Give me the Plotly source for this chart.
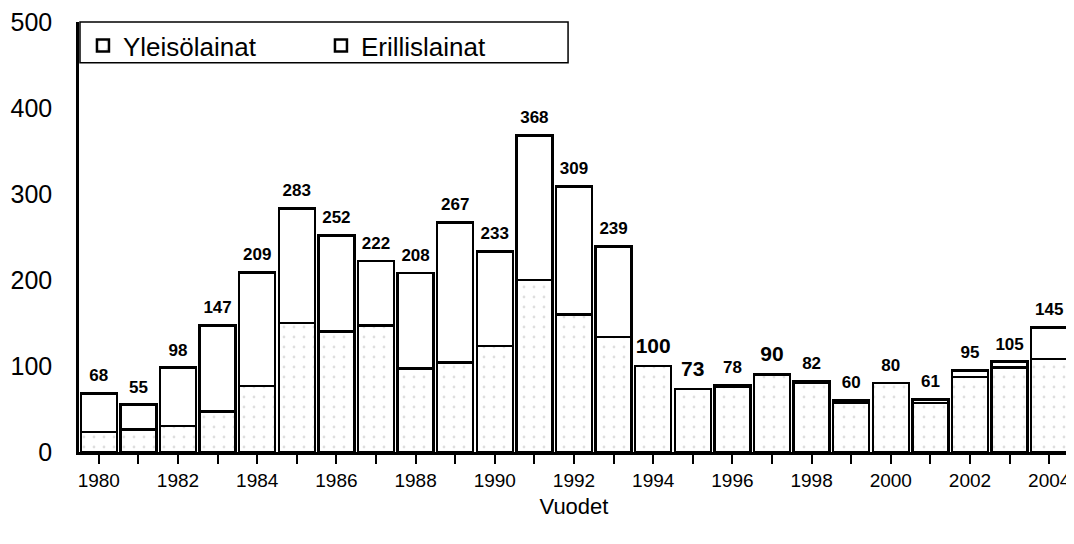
import plotly.graph_objects as go

years = list(range(1980, 2005))
totals = [68, 55, 98, 147, 209, 283, 252, 222, 208, 267, 233, 368, 309, 239,
          100, 73, 78, 90, 82, 60, 80, 61, 95, 105, 145]
yleiso = [23, 26, 30, 47, 77, 150, 140, 147, 97, 104, 123, 200, 160, 134,
          100, 73, 76, 90, 80, 57, 80, 57, 87, 98, 108]
erillis = [t - y for t, y in zip(totals, yleiso)]
label_sizes = [17] * 25
for i in (14, 15, 17):
    label_sizes[i] = 21

font_family = "Liberation Sans, Arial, sans-serif"

fig = go.Figure()
fig.add_trace(go.Bar(
    x=years, y=yleiso, name="Yleisölainat",
    marker=dict(color="white", line=dict(color="black", width=2.5),
                pattern=dict(shape=".", fgcolor="#bdbdbd", bgcolor="white",
                             size=10, solidity=0.06)),
))
fig.add_trace(go.Bar(
    x=years, y=erillis, name="Erillislainat",
    marker=dict(color="white", line=dict(color="black", width=2.5)),
))
fig.add_trace(go.Scatter(
    x=years, y=totals, mode="markers+text", text=[str(t) for t in totals],
    marker=dict(size=11, color="rgba(0,0,0,0)"),
    textposition="top center", showlegend=False, hoverinfo="skip",
    textfont=dict(family=font_family, size=label_sizes, color="black"),
    texttemplate="<b>%{text}</b>",
))

fig.update_layout(
    barmode="stack", bargap=0.09,
    width=1066, height=528,
    margin=dict(l=71, r=5, t=14, b=84),
    plot_bgcolor="white", paper_bgcolor="white",
    font=dict(family=font_family, color="black"),
    showlegend=True,
    legend=dict(orientation="h", x=0.004, y=1.0, xanchor="left", yanchor="top",
                borderwidth=0, bgcolor="rgba(0,0,0,0)",
                font=dict(size=26), itemwidth=30, traceorder="normal",
                entrywidth=193, entrywidthmode="pixels",
                tracegroupgap=0),
    xaxis=dict(range=[1979.5, 2004.5], tickmode="array", tickvals=years,
               ticktext=[str(y) if y % 2 == 0 else "" for y in years],
               ticks="outside", ticklen=9, tickcolor="black", tickwidth=1.5,
               showline=True, linecolor="black", linewidth=2.5,
               showgrid=False, tickfont=dict(size=19), automargin=False,
               ticklabeloverflow="allow",
               title=dict(text="Vuodet", font=dict(size=22), standoff=10)),
    yaxis=dict(range=[0, 500], tickvals=[0, 100, 200, 300, 400, 500],
               showline=True, linecolor="black", linewidth=2.5, mirror=False,
               showgrid=False, zeroline=False, ticks="", tickfont=dict(size=25),
               ticklabelstandoff=19, automargin=False,
               ticklabeloverflow="allow"),
    shapes=[
        dict(type="line", xref="paper", yref="paper", x0=1, x1=1, y0=0, y1=1,
             line=dict(color="black", width=2.5)),
        dict(type="rect", xref="paper", yref="paper", x0=0.001, x1=0.494,
             y0=0.905, y1=1.0, line=dict(color="black", width=1.5),
             fillcolor="rgba(0,0,0,0)", layer="above"),
    ],
)

fig.write_html("out.html")
